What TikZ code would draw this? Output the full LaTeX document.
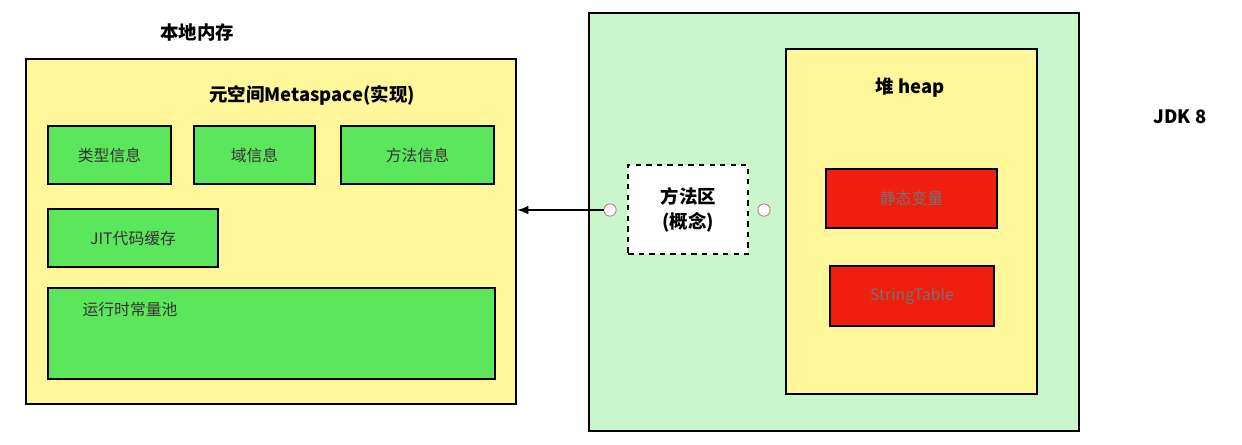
\documentclass[tikz,border=0pt]{standalone}
\usepackage{fontspec}
\setmainfont{Noto Sans CJK SC}
\usetikzlibrary{positioning,arrows}
\definecolor{memyellow}{HTML}{FFF799}
\definecolor{infogreen}{HTML}{5CE65C}
\definecolor{jvmgreen}{HTML}{C9F5CB}
\definecolor{heapred}{HTML}{F01E0E}
\tikzset{
    area/.style = {rectangle, draw, line width=1.2pt, anchor=north west, inner sep=0pt},
    info/.style = {rectangle, draw, line width=1.2pt, fill=infogreen, anchor=north west,
        font=\fontsize{9}{11}\selectfont, text=black!80},
    item/.style = {rectangle, draw, line width=1.2pt, fill=heapred, anchor=north west,
        font=\fontsize{9}{11}\selectfont, text=black!55},
    title/.style = {font=\bfseries\fontsize{10.5}{12}\selectfont},
    pin/.style = {circle, draw=red!50!black!60, fill=white, inner sep=0pt, minimum size=7}
}
\begin{document}
\begin{tikzpicture}[x=0.02cm, y=-0.02cm]
    \useasboundingbox (0,0) rectangle (1242,444);
    % native memory
    \node[title] (native) at (197,32) {本地内存};
    \node[area, fill=memyellow, minimum width=490*0.02cm, minimum height=345*0.02cm] (meta) at (25,58) {};
    \node[title] (metatitle) at (312,95) {元空间Metaspace(实现)};
    \node[info, minimum width=123*0.02cm, minimum height=58*0.02cm] (type) at (47,125) {类型信息};
    \node[info, minimum width=121*0.02cm, minimum height=58*0.02cm] (field) at (193,125) {域信息};
    \node[info, minimum width=153*0.02cm, minimum height=58*0.02cm] (method) at (340,125) {方法信息};
    \node[info, minimum width=170*0.02cm, minimum height=58*0.02cm] (jit) at (47,208) {JIT代码缓存};
    \node[info, minimum width=447*0.02cm, minimum height=91*0.02cm] (pool) at (47,287) {};
    \node[font=\fontsize{9}{11}\selectfont, text=black!80] (pooltext) at (130,310) {运行时常量池};
    % jvm
    \node[area, fill=jvmgreen, minimum width=490*0.02cm, minimum height=418*0.02cm] (jvm) at (588,12) {};
    \node[area, fill=memyellow, minimum width=251*0.02cm, minimum height=345*0.02cm] (heap) at (785,48) {};
    \node[title] (heaptitle) at (910,88) {堆 heap};
    \node[item, minimum width=171*0.02cm, minimum height=59*0.02cm] (static) at (825,168) {静态变量};
    \node[item, minimum width=164*0.02cm, minimum height=60*0.02cm] (strtab) at (829,265) {StringTable};
    \node[area, dashed, line width=1.4pt, fill=white, minimum width=120*0.02cm, minimum height=89*0.02cm,
        align=center, font=\bfseries\fontsize{10.5}{14}\selectfont] (mzone) at (627,164) {方法区\\(概念)};
    \node[pin] (lpin) at (610,210) {};
    \node[pin] (rpin) at (764,210) {};
    \node[title] (jdk) at (1180,117) {JDK 8};
    \draw[line width=1.2pt, -latex] (lpin) -- (meta.east |- lpin);
\end{tikzpicture}
\end{document}
